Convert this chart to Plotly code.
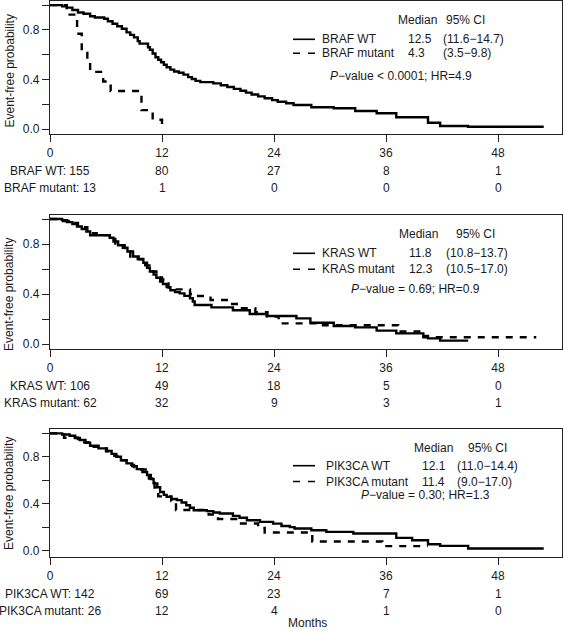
import plotly.graph_objects as go

# ---------------- data ----------------
months_ticks = [0, 12, 24, 36, 48]
prob_ticks = [0.0, 0.2, 0.4, 0.6, 0.8, 1.0]
prob_ticktext = ["0.0", "", "0.4", "", "0.8", ""]

# Panel 1: BRAF
braf_wt_t = [0, 1.3, 1.8, 2.4, 3.0, 3.6, 4.3, 4.8, 5.8, 6.2, 6.7, 7.2, 7.7, 8.2, 8.6, 9.0, 9.4, 9.6,
             10.5, 10.7, 11.0, 11.3, 11.6, 11.9, 12.2, 12.5, 12.9, 13.3, 13.8, 14.3, 14.8, 15.2, 15.6,
             16.1, 17.5, 18.3, 19.0, 19.7, 20.4, 21.0, 21.6, 22.3, 23.0, 23.8, 24.4, 25.3, 26.1, 28.0,
             30.4, 32.7, 35.0, 37.1, 40.5, 41.8, 44.8, 52.9]
braf_wt_s = [1.0, 0.99, 0.98, 0.96, 0.94, 0.93, 0.91, 0.90, 0.89, 0.87, 0.85, 0.83, 0.81, 0.78, 0.76, 0.74,
             0.71, 0.69, 0.66, 0.64, 0.61, 0.58, 0.56, 0.54, 0.52, 0.50, 0.48, 0.465, 0.455, 0.44, 0.42,
             0.405, 0.39, 0.38, 0.37, 0.355, 0.34, 0.325, 0.31, 0.295, 0.28, 0.265, 0.25, 0.235, 0.222,
             0.21, 0.196, 0.177, 0.169, 0.147, 0.129, 0.097, 0.053, 0.027, 0.02, 0.02]
braf_mut_t = [0, 1.8, 2.9, 3.4, 4.0, 4.3, 5.7, 6.5, 9.8, 11.0, 12.0]
braf_mut_s = [1.0, 0.923, 0.769, 0.615, 0.538, 0.462, 0.385, 0.308, 0.154, 0.077, 0.0]

# Panel 2: KRAS
kras_wt_t = [0, 1.3, 1.8, 2.4, 2.9, 3.4, 3.9, 4.3, 6.4, 6.8, 7.3, 7.8, 8.3, 8.9, 9.4, 10.0, 10.4, 10.7,
             11.1, 11.4, 11.8, 12.1, 12.5, 12.9, 13.4, 13.9, 14.4, 15.0, 15.3, 15.5, 17.3, 19.6, 21.4,
             23.2, 26.4, 27.9, 30.4, 32.7, 35.0, 37.1, 40.0, 40.5, 41.8, 44.8]
kras_wt_s = [1.0, 0.99, 0.975, 0.96, 0.94, 0.92, 0.90, 0.87, 0.85, 0.82, 0.79, 0.77, 0.74, 0.70, 0.68,
             0.65, 0.61, 0.58, 0.555, 0.53, 0.50, 0.48, 0.455, 0.43, 0.415, 0.405, 0.385, 0.366, 0.34,
             0.312, 0.293, 0.27, 0.24, 0.224, 0.205, 0.17, 0.144, 0.133, 0.107, 0.085, 0.065, 0.045,
             0.027, 0.027]
kras_mut_t = [0, 1.0, 2.0, 3.0, 4.0, 5.0, 7.0, 8.0, 8.6, 9.5, 10.2, 10.8, 11.4, 12.0, 12.3, 12.7, 13.2,
              15.0, 15.6, 17.2, 19.3, 20.3, 22.0, 23.3, 24.5, 29.0, 37.3, 40.0, 52.1]
kras_mut_s = [1.0, 0.984, 0.968, 0.935, 0.887, 0.871, 0.79, 0.742, 0.70, 0.677, 0.629, 0.58, 0.532,
              0.516, 0.484, 0.452, 0.437, 0.40, 0.384, 0.352, 0.32, 0.286, 0.255, 0.22, 0.165, 0.15,
              0.10, 0.054, 0.054]

# Panel 3: PIK3CA
pik_wt_t = [0, 1.3, 2.1, 2.7, 3.2, 3.8, 4.3, 5.2, 6.1, 6.6, 7.1, 7.6, 8.2, 8.8, 9.3, 9.9, 10.4, 10.8,
            11.1, 11.5, 11.8, 12.2, 12.5, 13.0, 13.6, 14.1, 14.6, 15.0, 15.4, 16.8, 17.5, 18.2, 19.6,
            20.3, 21.1, 22.5, 23.9, 24.8, 25.7, 26.2, 28.0, 29.6, 32.5, 37.1, 38.8, 40.5, 41.8, 44.8,
            52.9]
pik_wt_s = [1.0, 0.99, 0.98, 0.96, 0.943, 0.92, 0.894, 0.872, 0.849, 0.825, 0.80, 0.77, 0.744, 0.72,
            0.695, 0.67, 0.644, 0.61, 0.573, 0.54, 0.50, 0.475, 0.458, 0.44, 0.43, 0.41, 0.387, 0.365,
            0.344, 0.336, 0.325, 0.316, 0.296, 0.28, 0.259, 0.245, 0.23, 0.21, 0.20, 0.188, 0.173,
            0.159, 0.145, 0.108, 0.088, 0.054, 0.04, 0.017, 0.017]
pik_mut_t = [0, 1.5, 3.0, 4.3, 6.0, 6.9, 7.2, 8.7, 9.0, 10.4, 10.6, 10.9, 11.2, 11.4, 11.6, 13.0, 13.5,
             17.0, 18.0, 20.3, 22.3, 23.0, 28.1, 35.6, 40.5]
pik_mut_s = [1.0, 0.962, 0.923, 0.885, 0.846, 0.808, 0.769, 0.731, 0.692, 0.654, 0.615, 0.577, 0.538,
             0.50, 0.462, 0.423, 0.346, 0.308, 0.269, 0.231, 0.192, 0.154, 0.077, 0.038, 0.038]

# Numbers at risk
braf_wt_risk = [155, 80, 27, 8, 1]
braf_mut_risk = [13, 1, 0, 0, 0]
kras_wt_risk = [106, 49, 18, 5, 0]
kras_mut_risk = [62, 32, 9, 3, 1]
pik_wt_risk = [142, 69, 23, 7, 1]
pik_mut_risk = [26, 12, 4, 1, 0]

group_names = [("BRAF WT", "BRAF mutant"), ("KRAS WT", "KRAS mutant"), ("PIK3CA WT", "PIK3CA mutant")]
medians = [("12.5", "4.3"), ("11.8", "12.3"), ("12.1", "11.4")]
cis = [("(11.6\u221214.7)", "(3.5\u22129.8)"), ("(10.8\u221213.7)", "(10.5\u221217.0)"),
       ("(11.0\u221214.4)", "(9.0\u221217.0)")]
pvals = ["<i>P</i>\u2212value &lt; 0.0001; HR=4.9", "<i>P</i>\u2212value = 0.69; HR=0.9",
         "<i>P</i>\u2212value = 0.30; HR=1.3"]

# ---------------- layout helpers ----------------
W, H = 564, 631
FONT = "Liberation Sans, Arial, Helvetica, sans-serif"
TXT = "#1a1a1a"


def PX(x):
    return x / W


def PY(y):
    return 1 - y / H


curves = [
    (braf_wt_t, braf_wt_s, braf_mut_t, braf_mut_s, braf_wt_risk, braf_mut_risk),
    (kras_wt_t, kras_wt_s, kras_mut_t, kras_mut_s, kras_wt_risk, kras_mut_risk),
    (pik_wt_t, pik_wt_s, pik_mut_t, pik_mut_s, pik_wt_risk, pik_mut_risk),
]

# box pixel extents (top, bottom) and y ranges
boxes = [(1, 134), (215, 349), (429, 557)]
yranges = [[-0.038, 1.033], [-0.04, 1.032], [-0.055, 1.037]]
ytitle_centers = [71.5, 295, 494]
# legend geometry per panel: (median_x, ci_x, header_y, row1_y, row2_y, pval_x, pval_y, name_x, val_x, civ_x)
legend_geo = [
    (397, 445, 20, 39.3, 53.3, 329, 76, 321, 407, 442),
    (398, 455, 234.3, 253.3, 269.3, 350, 289.3, 321, 408, 445),
    (413, 467, 448.3, 465.7, 481.5, 360, 495, 325, 421, 456),
]

xmin_px, xmax_px = 50, 562
px_per_month = (498 - 50) / 48.0
xrange = [0, (xmax_px - xmin_px) / px_per_month]

fig = go.Figure()
annotations = []
shapes = []

for i, (wt_t, wt_s, mu_t, mu_s, wt_r, mu_r) in enumerate(curves):
    n = i + 1
    xa = "x" if n == 1 else f"x{n}"
    ya = "y" if n == 1 else f"y{n}"
    top, bot = boxes[i]

    fig.add_trace(go.Scatter(x=wt_t, y=wt_s, mode="lines", line=dict(color="black", width=2.4, shape="hv"),
                             xaxis=xa, yaxis=ya, showlegend=False, hoverinfo="skip"))
    fig.add_trace(go.Scatter(x=mu_t, y=mu_s, mode="lines",
                             line=dict(color="black", width=2.4, shape="hv", dash="7px,7px"),
                             xaxis=xa, yaxis=ya, showlegend=False, hoverinfo="skip"))

    axis_common = dict(showline=True, linecolor="#222", linewidth=1.2, mirror=True, showgrid=False,
                       zeroline=False, ticks="outside", ticklen=7, tickwidth=1.2, tickcolor="#222",
                       automargin=False, tickfont=dict(family=FONT, size=12, color=TXT))
    fig.update_layout(**{
        ("xaxis" if n == 1 else f"xaxis{n}"): dict(
            domain=[PX(xmin_px), PX(xmax_px)], range=xrange, anchor=ya,
            tickvals=months_ticks, ticktext=[str(v) for v in months_ticks], **axis_common),
        ("yaxis" if n == 1 else f"yaxis{n}"): dict(
            domain=[PY(bot), PY(top)], range=yranges[i], anchor=xa,
            tickvals=prob_ticks, ticktext=prob_ticktext, **axis_common),
    })

    # numbers at risk
    for row, (label, risks) in enumerate([(group_names[i][0], wt_r), (group_names[i][1], mu_r)]):
        ypix = bot + 37 + row * 17
        for j, (m, r) in enumerate(zip(months_ticks, risks)):
            txt = f"{label}: {r}" if j == 0 else str(r)
            annotations.append(dict(x=m, xref=xa, y=PY(ypix), yref="paper", text=txt, showarrow=False,
                                    xanchor="center", yanchor="middle", borderpad=0,
                                    font=dict(family=FONT, size=12, color=TXT)))

    # y title
    annotations.append(dict(x=PX(9), y=PY(ytitle_centers[i]), xref="paper", yref="paper",
                            text="Event-free probability", textangle=-90, showarrow=False, borderpad=0,
                            xanchor="center", yanchor="middle", font=dict(family=FONT, size=12, color=TXT)))

    # legend block
    mx, cx, hy, r1, r2, pvx, pvy, nx, vx, cvx = legend_geo[i]
    f = dict(family=FONT, size=12, color=TXT)
    for text, x, y in [("Median", mx, hy), ("95% CI", cx, hy),
                       (group_names[i][0], nx, r1), (medians[i][0], vx, r1), (cis[i][0], cvx, r1),
                       (group_names[i][1], nx, r2), (medians[i][1], vx, r2), (cis[i][1], cvx, r2),
                       (pvals[i], pvx, pvy)]:
        annotations.append(dict(x=PX(x), y=PY(y), xref="paper", yref="paper", text=text, showarrow=False,
                                xanchor="left", yanchor="middle", borderpad=0, font=f))
    shapes.append(dict(type="line", xref="paper", yref="paper", x0=PX(293), x1=PX(315), y0=PY(r1), y1=PY(r1),
                       line=dict(color="black", width=1.6)))
    shapes.append(dict(type="line", xref="paper", yref="paper", x0=PX(293), x1=PX(315), y0=PY(r2), y1=PY(r2),
                       line=dict(color="black", width=1.6, dash="7px,8px")))

annotations.append(dict(x=PX(307), y=PY(623), xref="paper", yref="paper", text="Months", showarrow=False,
                        xanchor="center", yanchor="middle", borderpad=0,
                        font=dict(family=FONT, size=12, color=TXT)))

fig.update_layout(width=W, height=H, margin=dict(l=0, r=0, t=0, b=0, autoexpand=False),
                  paper_bgcolor="white", plot_bgcolor="white", annotations=annotations, shapes=shapes,
                  showlegend=False)

fig.write_html("out.html", config={"displayModeBar": False},
               post_script="document.body.style.margin='0';document.body.style.padding='0';"
                           "document.documentElement.style.overflow='hidden';")
